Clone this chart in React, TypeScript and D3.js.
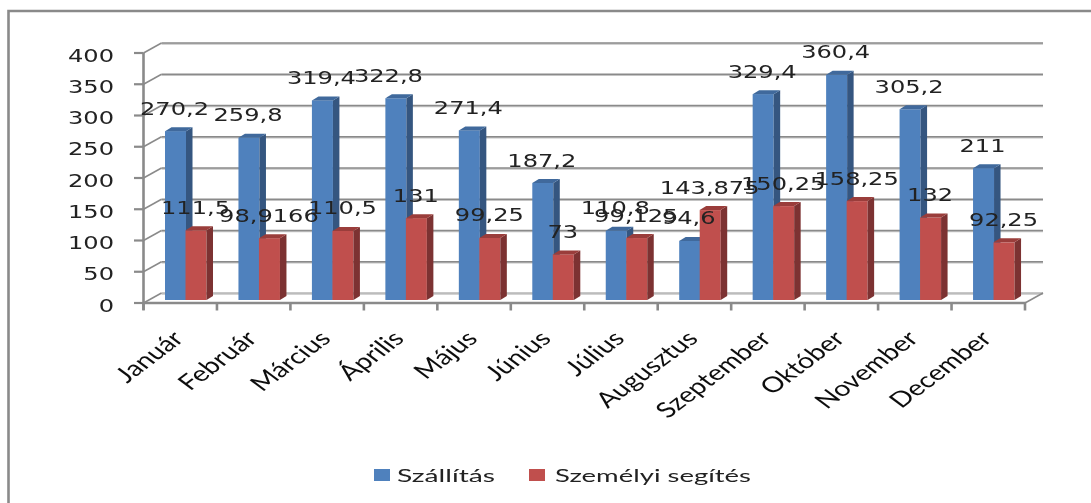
import React from "react";
import * as d3 from "d3";

const categories = ["Január","Február","Március","Április","Május","Június","Július","Augusztus","Szeptember","Október","November","December"];
const szallitas = [270.2,259.8,319.4,322.8,271.4,187.2,110.8,94.6,329.4,360.4,305.2,211];
const segites = [111.5,98.9166,110.5,131,99.25,73,99.125,143.875,150.25,158.25,132,92.25];
const segitesLabels = ["111,5","98,9166","110,5","131","99,25","73","99,125","143,875","150,25","158,25","132","92,25"];
const yTicks = [0,50,100,150,200,250,300,350,400];

const W = 1091, H = 503;
const left = 143.5, right = 1025, front0 = 303, frontTop = 53;
const depthX = 18, depthY = 10;
const grey = "#8a8a8a";
const stretch = 1.33;

const x = d3.scaleBand<string>().domain(categories).range([left, right]);
const yFront = d3.scaleLinear().domain([0, 400]).range([front0, frontTop]);
const yBar = d3.scaleLinear().domain([0, 400]).range([300, 50]);
const fmt = (v: number) => String(v).replace(".", ",");

function Bar({ x0, w, v, face, side, top }: { x0: number; w: number; v: number; face: string; side: string; top: string }) {
  const y = yBar(v), b = yBar(0), dx = 6.5, dy = 4;
  return (
    <g>
      <rect x={x0} y={y} width={w} height={b - y} fill={face} />
      <path d={`M${x0 + w},${y}L${x0 + w + dx},${y - dy}L${x0 + w + dx},${b - dy}L${x0 + w},${b}Z`} fill={side} />
      <path d={`M${x0},${y}L${x0 + dx},${y - dy}L${x0 + w + dx},${y - dy}L${x0 + w},${y}Z`} fill={top} />
    </g>
  );
}

function Wide({ x: px, y, children, anchor = "middle" }: { x: number; y: number; children: React.ReactNode; anchor?: string }) {
  return (
    <text transform={`translate(${px},${y}) scale(${stretch + 0.01},1)`} textAnchor={anchor as any}
      fontFamily="'DejaVu Sans'" fontSize={18} fill="#222">{children}</text>
  );
}

export default function App() {
  return (
    <svg width={W} height={H} viewBox={`0 0 ${W} ${H}`} style={{ position: "absolute", left: 0, top: 0, background: "#fff" }}>
      <defs>
        <filter id="soft" filterUnits="userSpaceOnUse" x={0} y={0} width={W} height={H}>
          <feGaussianBlur stdDeviation={0.45} />
        </filter>
      </defs>
      <path d={`M8.5,503V11H${W}`} fill="none" stroke={grey} strokeWidth={2.6} />

      <g filter="url(#soft)">
        {yTicks.map(t => (
          <g key={t}>
            <line x1={left + depthX} x2={right + depthX} y1={yFront(t) - depthY + 1} y2={yFront(t) - depthY + 1} stroke="#c4c4c4" strokeWidth={1.5} />
            <line x1={left + depthX} x2={right + depthX} y1={yFront(t) - depthY} y2={yFront(t) - depthY} stroke={t === 0 ? "#b5b5b5" : grey} strokeWidth={1.6} />
            <line x1={left} x2={left + depthX} y1={yFront(t)} y2={yFront(t) - depthY} stroke={grey} strokeWidth={1.5} />
            <line x1={134} x2={left} y1={yFront(t)} y2={yFront(t)} stroke={grey} strokeWidth={2.2} />
            <Wide x={114} y={yFront(t) + 8.6} anchor="end">{t}</Wide>
          </g>
        ))}
        <line x1={right} x2={right + depthX} y1={front0} y2={front0 - depthY} stroke={grey} strokeWidth={1.5} />
        <line x1={left} x2={left} y1={frontTop} y2={front0 + 7} stroke={grey} strokeWidth={2.6} />
        <line x1={left} x2={right + 1} y1={front0} y2={front0} stroke={grey} strokeWidth={2.6} />
        {[...categories.map(c => x(c)!), right].map((t, i) => (
          <line key={i} x1={t} x2={t} y1={front0} y2={front0 + 7.5} stroke={grey} strokeWidth={2.6} />
        ))}

        {categories.map((c, i) => {
          const s = x(c)!;
          return (
            <g key={c}>
              <Bar x0={s + 21.5} w={21} v={szallitas[i]} face="#4f81bd" side="#355680" top="#3f699c" />
              <Bar x0={s + 42} w={21} v={segites[i]} face="#c0504d" side="#7c3230" top="#9a3e3b" />
            </g>
          );
        })}

        {categories.map((c, i) => {
          const s = x(c)!;
          return (
            <g key={c}>
              <Wide x={s + (i === 3 ? 24.5 : 31)} y={yBar(szallitas[i]) - 16.5}>{fmt(szallitas[i])}</Wide>
              <Wide x={s + 52} y={yBar(segites[i]) - 16.5}>{segitesLabels[i]}</Wide>
            </g>
          );
        })}

        {categories.map(c => (
          <text key={c} transform={`translate(${x(c)! + x.bandwidth() / 2 + 5},${340}) scale(${stretch},1) rotate(-45)`} textAnchor="end"
            fontFamily="Lato" fontSize={21.5} fill="#111">{c}</text>
        ))}

        <rect x={374} y={469} width={16} height={12} fill="#4f81bd" />
        <text transform={`translate(397,481.5) scale(${stretch},1)`} fontFamily="Lato" fontSize={17} fill="#222" textLength={98 / stretch} lengthAdjust="spacingAndGlyphs">Szállítás</text>
        <rect x={529} y={469} width={16} height={12} fill="#c0504d" />
        <text transform={`translate(555,481.5) scale(${stretch},1)`} fontFamily="Lato" fontSize={17} fill="#222" textLength={196 / stretch} lengthAdjust="spacingAndGlyphs">Személyi segítés</text>
      </g>
    </svg>
  );
}
